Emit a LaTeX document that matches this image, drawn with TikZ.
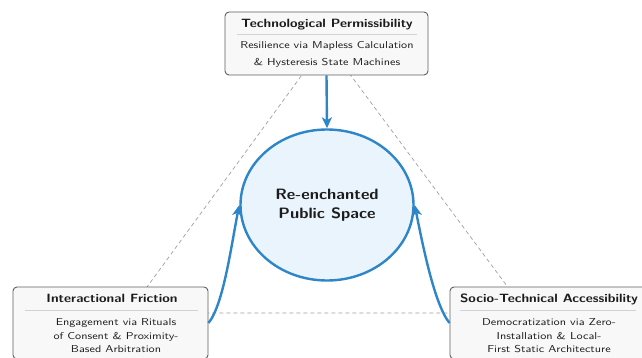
\documentclass[tikz,border=0pt]{standalone}
\usepackage{tikz}
\usepackage{graphicx}
\usetikzlibrary{arrows.meta,calc,shapes.geometric}
\definecolor{flowblue}{RGB}{46,134,200}
\definecolor{hubfill}{RGB}{234,244,252}
\definecolor{cardfill}{RGB}{248,248,248}
\definecolor{cardline}{RGB}{95,95,95}
\definecolor{rulegray}{RGB}{210,210,210}
\definecolor{guidegray}{RGB}{160,160,160}
\definecolor{inkgray}{RGB}{28,28,28}
% wide lettering, stacked lines
\newcommand\widen[2][1.18]{\scalebox{#1}[1]{\begin{tabular}{@{}c@{}}#2\end{tabular}}}

\begin{document}
\begin{tikzpicture}[x=1pt,y=-1pt,
    card/.style={draw=cardline, fill=cardfill, rounded corners=4pt, line width=0.9pt, inner sep=0pt},
    cardtitle/.style={text=inkgray, inner sep=0pt, font=\sffamily\bfseries\fontsize{12}{14}\selectfont},
    cardbody/.style={text=inkgray, inner sep=0pt, font=\sffamily\fontsize{10}{#1}\selectfont},
    sep/.style={rulegray, line width=0.6pt},
    guide/.style={guidegray, line width=0.7pt, dash pattern=on 4pt off 3pt},
    flow/.style={flowblue, line width=2.4pt, -{Stealth[length=11pt,width=10pt,inset=3pt]}}]
\useasboundingbox (0,0) rectangle (642,358);
\fill[white] (0,0) rectangle (642,358);

% dashed triangle behind everything
\coordinate (apex) at (326,42);
\coordinate (lcorner) at (128,313);
\coordinate (rcorner) at (527,313);
\draw[guide] (apex) -- (lcorner) -- (rcorner) -- cycle;

% three cards
\node[card, minimum width=203, minimum height=63] (topcard) at (326.5,43.5) {};
\node[card, minimum width=195, minimum height=72] (leftcard) at (110.5,323) {};
\node[card, minimum width=196, minimum height=72] (rightcard) at (548,323) {};

\node[cardtitle] (toptitle) at (327,25) {\widen[1.14]{Technological Permissibility}};
\draw[sep] ($(topcard.north west)+(12,23)$) -- ($(topcard.north east)+(-11,23)$);
\node[cardbody=17] (topbody) at (327,53.5) {\widen[1.22]{Resilience via Mapless Calculation\\\& Hysteresis State Machines}};

\node[cardtitle] (lefttitle) at (112,300) {\widen[1.14]{Interactional Friction}};
\draw[sep] ($(leftcard.north west)+(12,24)$) -- ($(leftcard.north east)+(-10,24)$);
\node[cardbody=13.5] (leftbody) at (116,336.5) {\widen[1.22]{Engagement via Rituals\\of Consent \& Proximity-\\Based Arbitration}};

\node[cardtitle] (righttitle) at (549,300) {\widen[1.14]{Socio-Technical Accessibility}};
\draw[sep] ($(rightcard.north west)+(10,24)$) -- ($(rightcard.north east)+(-10,24)$);
\node[cardbody=13.5] (rightbody) at (549,336.5) {\widen[1.22]{Democratization via Zero-\\Installation \& Local-\\First Static Architecture}};

% central hub
\node[ellipse, draw=flowblue, fill=hubfill, line width=2.4pt, minimum width=173, minimum height=151,
      text=inkgray, font=\sffamily\bfseries\fontsize{15}{19}\selectfont] (hub) at (327,205)
      {\widen[1.1]{Re-enchanted\\Public Space}};

% arrows into the hub
\draw[flow] (topcard.south) -- (hub.north);
\draw[flow] (leftcard.east) .. controls +(15,-18) and +(-8,40) .. (hub.west);
\draw[flow] (rightcard.west) .. controls +(-15,-18) and +(8,40) .. (hub.east);
\end{tikzpicture}
\end{document}
